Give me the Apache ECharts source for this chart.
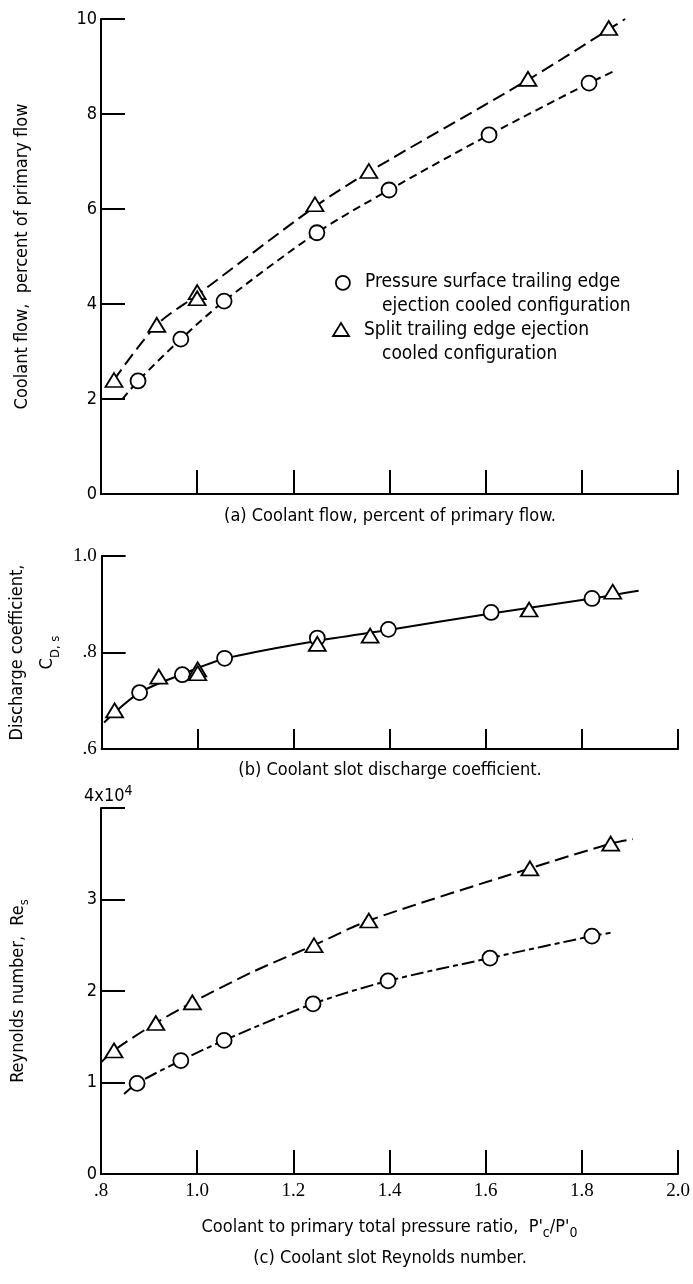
<!DOCTYPE html>
<html>
<head>
<meta charset="utf-8">
<script src="https://cdn.jsdelivr.net/npm/echarts@6/dist/echarts.min.js"></script>
<style>
  html, body { margin: 0; padding: 0; background: #fff; }
  #chart { width: 693px; height: 1284px; }
</style>
</head>
<body>
<div id="chart"></div>
<script>
const SANS = '"DejaVu Sans Condensed", "Liberation Sans Narrow", sans-serif'
const SERIF = '"Liberation Serif", "DejaVu Serif", serif'

// x: coolant to primary total pressure ratio (shared by all three panels)
const xMin = 0.8
const xMax = 2.0
const xStep = 0.2

// (a) coolant flow, percent of primary flow
const flowCircle = [[0.877, 2.38], [0.966, 3.26], [1.056, 4.06], [1.249, 5.50], [1.399, 6.40], [1.607, 7.56], [1.815, 8.65]]
const flowTriangle = [[0.827, 2.40], [0.916, 3.56], [1.000, 4.25], [1.000, 4.12], [1.245, 6.10], [1.357, 6.80], [1.688, 8.74], [1.856, 9.81]]
const flowCircleCurve = [[0.845, 2.00], [0.877, 2.38], [0.966, 3.26], [1.056, 4.06], [1.249, 5.50], [1.399, 6.40], [1.607, 7.56], [1.815, 8.65], [1.873, 8.93]]
const flowTriangleCurve = [[0.827, 2.40], [0.916, 3.56], [1.000, 4.19], [1.245, 6.05], [1.357, 6.78], [1.688, 8.72], [1.856, 9.78], [1.890, 10.0]]

// (b) coolant slot discharge coefficient
const cdCircle = [[0.879, 0.717], [0.968, 0.754], [1.056, 0.788], [1.249, 0.830], [1.397, 0.848], [1.611, 0.883], [1.821, 0.912]]
const cdTriangle = [[0.827, 0.680], [0.919, 0.750], [1.000, 0.765], [1.000, 0.757], [1.249, 0.818], [1.359, 0.835], [1.690, 0.889], [1.864, 0.926]]
const cdCurve = [[0.805, 0.655], [0.879, 0.717], [0.968, 0.755], [1.056, 0.787], [1.249, 0.824], [1.400, 0.847], [1.611, 0.881], [1.821, 0.912], [1.918, 0.928]]

// (c) coolant slot Reynolds number
const reCircle = [[0.875, 9900], [0.966, 12400], [1.056, 14600], [1.241, 18600], [1.397, 21100], [1.609, 23600], [1.821, 26000]]
const reTriangle = [[0.827, 13500], [0.914, 16500], [0.990, 18750], [1.243, 25000], [1.357, 27700], [1.692, 33400], [1.860, 36100]]
const reCircleCurve = [[0.848, 8750], [0.875, 9900], [0.966, 12400], [1.056, 14600], [1.241, 18600], [1.397, 21100], [1.609, 23600], [1.821, 26000], [1.865, 26400]]
const reTriangleCurve = [[0.800, 12200], [0.827, 13500], [0.914, 16500], [0.990, 18750], [1.120, 22200], [1.243, 25000], [1.357, 27700], [1.692, 33400], [1.860, 36100], [1.906, 36600]]

const legendCircle = 'Pressure surface trailing edge'
const legendCircle2 = 'ejection cooled configuration'
const legendTriangle = 'Split trailing edge ejection'
const legendTriangle2 = 'cooled configuration'

const captions = [
  ['(a) Coolant flow, percent of primary flow.', 516],
  ['(b) Coolant slot discharge coefficient.', 770],
  ['(c) Coolant slot Reynolds number.', 1258]
]

const ink = '#000'
const axisLine = { onZero: false, lineStyle: { color: ink, width: 2 } }
const tick = (len) => ({ show: true, inside: true, length: len, lineStyle: { color: ink, width: 2 } })

const xAxisBase = (gi, tickLen, showLabel) => ({
  type: 'value', gridIndex: gi, min: xMin, max: xMax, interval: xStep,
  axisLine, axisTick: tick(tickLen), splitLine: { show: false },
  axisLabel: {
    show: showLabel, color: ink, fontFamily: SERIF, fontSize: 19, margin: 8,
    formatter: (v) => (v < 1 ? '.' + Math.round(v * 10) : v.toFixed(1))
  }
})

const markerCircle = (xi, data) => ({
  type: 'scatter', xAxisIndex: xi, yAxisIndex: xi, data, z: 5,
  symbol: 'circle', symbolSize: 15,
  itemStyle: { color: '#fff', borderColor: ink, borderWidth: 1.8, opacity: 1 }
})
const markerTriangle = (xi, data) => ({
  type: 'scatter', xAxisIndex: xi, yAxisIndex: xi, data, z: 5,
  symbol: 'triangle', symbolSize: [17, 14],
  itemStyle: { color: '#fff', borderColor: ink, borderWidth: 1.8, opacity: 1 }
})
const curve = (xi, data, dash) => ({
  type: 'line', xAxisIndex: xi, yAxisIndex: xi, data, z: 2,
  smooth: 0.3, showSymbol: false, silent: true,
  lineStyle: { color: ink, width: 2, type: dash }
})

const chart = echarts.init(document.getElementById('chart'), null, { renderer: 'canvas' })

chart.setOption({
  backgroundColor: '#fff',
  animation: false,
  textStyle: { fontFamily: SANS, color: ink },
  grid: [
    { left: 101, top: 19, width: 577, height: 475 },
    { left: 101, top: 556, width: 577, height: 193 },
    { left: 101, top: 808, width: 577, height: 366 }
  ],
  xAxis: [
    xAxisBase(0, 24, false),
    xAxisBase(1, 20, false),
    Object.assign(xAxisBase(2, 24, true), {
      name: "{t|Coolant to primary total pressure ratio,  P'}{s|c}{t|/P'}{s|0}",
      nameLocation: 'middle', nameGap: 40,
      nameTextStyle: {
        rich: {
          t: { fontFamily: SANS, fontSize: 18, color: ink, lineHeight: 26 },
          s: { fontFamily: SANS, fontSize: 14, color: ink, lineHeight: 26, verticalAlign: 'bottom', padding: [9, 0, 0, 0] }
        }
      }
    })
  ],
  yAxis: [
    {
      type: 'value', gridIndex: 0, min: 0, max: 10, interval: 2,
      axisLine, axisTick: tick(24), splitLine: { show: false },
      axisLabel: { color: ink, fontFamily: SANS, fontSize: 18, margin: 4 },
      name: 'Coolant flow,  percent of primary flow', nameLocation: 'middle', nameGap: 70,
      nameTextStyle: { fontFamily: SANS, fontSize: 18, color: ink }
    },
    {
      type: 'value', gridIndex: 1, min: 0.6, max: 1.0, interval: 0.2,
      axisLine, axisTick: tick(24), splitLine: { show: false },
      axisLabel: {
        color: ink, fontFamily: SERIF, fontSize: 19, margin: 5,
        formatter: (v) => (v < 0.99 ? '.' + Math.round(v * 10) : '1.0')
      },
      name: '{t|Discharge coefficient,}\n{c|C}{s|D, s}', nameLocation: 'middle', nameGap: 38,
      nameTextStyle: {
        align: 'center',
        rich: {
          t: { fontFamily: SANS, fontSize: 18, color: ink, lineHeight: 30 },
          c: { fontFamily: SANS, fontSize: 18, color: ink, lineHeight: 30 },
          s: { fontFamily: SANS, fontSize: 13, color: ink, lineHeight: 30, verticalAlign: 'bottom', padding: [9, 0, 0, 0] }
        }
      }
    },
    {
      type: 'value', gridIndex: 2, min: 0, max: 40000, interval: 10000,
      axisLine, axisTick: tick(24), splitLine: { show: false },
      axisLabel: {
        color: ink, fontFamily: SANS, fontSize: 18, margin: 4,
        formatter: (v) => (v >= 40000 ? '' : String(v / 10000))
      },
      name: '{t|Reynolds number,  Re}{s|s}', nameLocation: 'middle', nameGap: 70,
      nameTextStyle: {
        rich: {
          t: { fontFamily: SANS, fontSize: 18, color: ink, lineHeight: 26 },
          s: { fontFamily: SANS, fontSize: 13, color: ink, lineHeight: 26, verticalAlign: 'bottom', padding: [9, 0, 0, 0] }
        }
      }
    }
  ],
  series: [
    curve(0, flowCircleCurve, [8, 5]),
    curve(0, flowTriangleCurve, [13, 6]),
    markerCircle(0, flowCircle),
    markerTriangle(0, flowTriangle),

    curve(1, cdCurve, 'solid'),
    markerCircle(1, cdCircle),
    markerTriangle(1, cdTriangle),

    curve(2, reCircleCurve, [13, 4, 5, 4]),
    curve(2, reTriangleCurve, [14, 6]),
    markerCircle(2, reCircle),
    markerTriangle(2, reTriangle)
  ],
  graphic: [
    // legend of panel (a)
    { type: 'circle', left: 335, top: 275, shape: { r: 7 }, style: { fill: '#fff', stroke: ink, lineWidth: 1.8 } },
    { type: 'text', x: 365, y: 282, style: { text: legendCircle, font: '19px ' + SANS, fill: ink, verticalAlign: 'middle' } },
    { type: 'text', x: 382, y: 306, style: { text: legendCircle2, font: '19px ' + SANS, fill: ink, verticalAlign: 'middle' } },
    { type: 'polygon', shape: { points: [[333, 336], [349, 336], [341, 323]] }, style: { fill: '#fff', stroke: ink, lineWidth: 1.8 } },
    { type: 'text', x: 364, y: 330, style: { text: legendTriangle, font: '19px ' + SANS, fill: ink, verticalAlign: 'middle' } },
    { type: 'text', x: 382, y: 354, style: { text: legendTriangle2, font: '19px ' + SANS, fill: ink, verticalAlign: 'middle' } },
    // top label of the Reynolds number axis
    {
      type: 'text', x: 84, y: 784,
      style: {
        text: '{b|4x10}{p|4}',
        rich: {
          b: { fontFamily: SANS, fontSize: 18, fill: ink, lineHeight: 24 },
          p: { fontFamily: SANS, fontSize: 14, fill: ink, lineHeight: 24, verticalAlign: 'top', padding: [0, 0, 9, 0] }
        }
      }
    },
    ...captions.map(([text, y]) => ({
      type: 'text', x: 390, y,
      style: { text, font: '18px ' + SANS, fill: ink, align: 'center', verticalAlign: 'middle' }
    }))
  ]
})
</script>
</body>
</html>
